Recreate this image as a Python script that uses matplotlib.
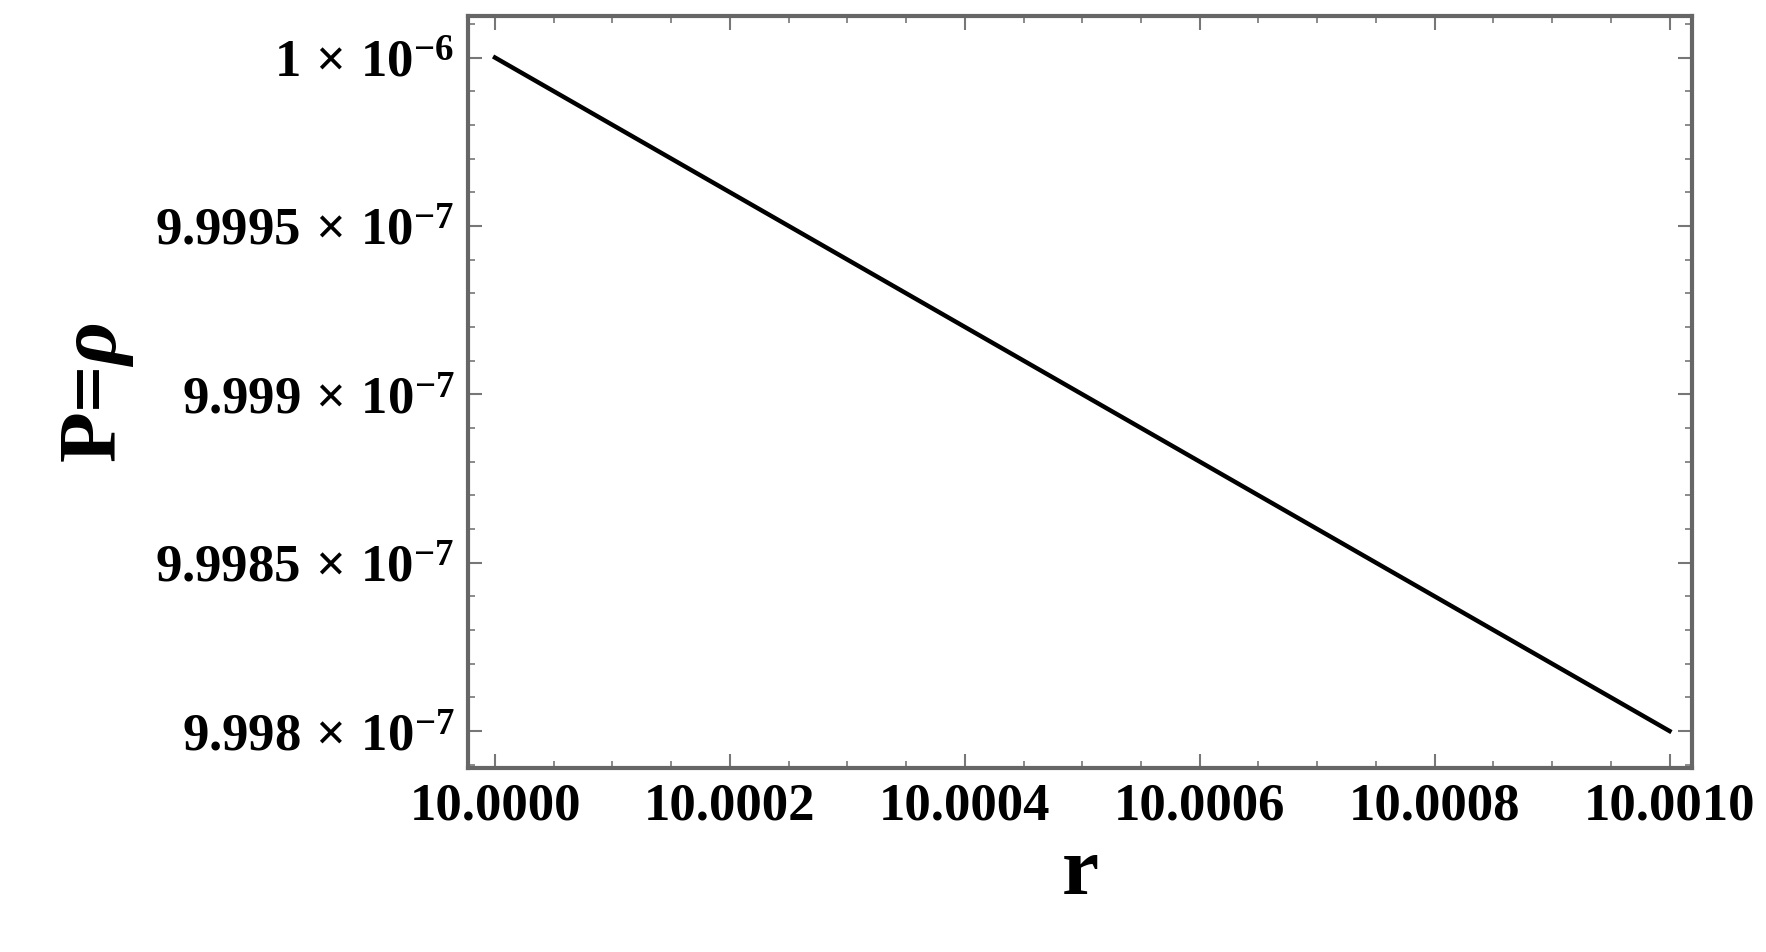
import matplotlib
matplotlib.use('Agg')
import matplotlib.pyplot as plt
from matplotlib.ticker import FixedLocator, MultipleLocator

plt.rcParams['font.family'] = ['Liberation Serif', 'DejaVu Serif']
plt.rcParams['font.weight'] = 'bold'
plt.rcParams['mathtext.fontset'] = 'custom'
plt.rcParams['mathtext.rm'] = 'Liberation Serif:bold'
plt.rcParams['mathtext.it'] = 'Liberation Serif:italic:bold'
plt.rcParams['mathtext.bf'] = 'Liberation Serif:bold'

r = [10.0, 10.001]
P = [1e-6, 9.998e-7]
yticks = [9.998e-7, 9.9985e-7, 9.999e-7, 9.9995e-7, 1e-6]
ylabels = [r'9.998$\,\times\,$10$^{-7}$', r'9.9985$\,\times\,$10$^{-7}$', r'9.999$\,\times\,$10$^{-7}$',
           r'9.9995$\,\times\,$10$^{-7}$', r'1$\,\times\,$10$^{-6}$']
xticks = [10.0, 10.0002, 10.0004, 10.0006, 10.0008, 10.001]
xlabels = ['10.0000', '10.0002', '10.0004', '10.0006', '10.0008', '10.0010']

fig = plt.figure(figsize=(17.66, 9.53), dpi=100)
ax = fig.add_axes([0.265, 0.193, 0.693, 0.789])
ax.plot(r, P, color='black', lw=3.2)

ax.set_xlim(10.0 - 2.3e-5, 10.001 + 1.9e-5)
ax.set_ylim(9.998e-7 - 1.1e-11, 1e-6 + 1.23e-11)
ax.xaxis.set_major_locator(FixedLocator(xticks))
ax.set_xticklabels(xlabels)
ax.yaxis.set_major_locator(FixedLocator(yticks))
ax.set_yticklabels(ylabels)
ax.xaxis.set_minor_locator(MultipleLocator(0.00005))
ax.yaxis.set_minor_locator(MultipleLocator(1e-11))

for s in ax.spines.values():
    s.set_color('#666666')
    s.set_linewidth(3)
ax.tick_params(which='both', direction='in', top=True, right=True, color='#777777')
ax.tick_params(which='major', length=10, width=1.5, labelsize=38, pad=10)
ax.tick_params(which='minor', length=5, width=1.2)

ax.set_xlabel('r', fontsize=60, fontweight='bold', labelpad=4)
ax.set_ylabel(r'P=$\rho$', fontsize=60, fontweight='bold', labelpad=14)

fig.savefig('out.png', dpi=100)
